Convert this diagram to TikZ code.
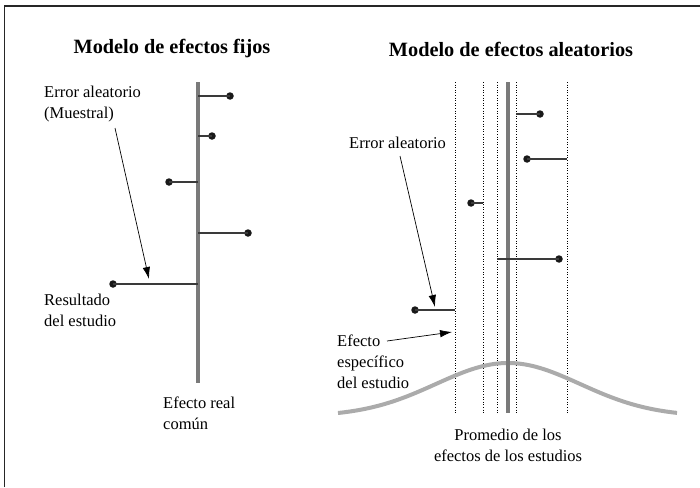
\documentclass[tikz,border=0pt]{standalone}
\usepackage{fontspec}
\setmainfont{Liberation Serif}
\usetikzlibrary{arrows.meta}

\definecolor{linegray}{HTML}{7A7A7A}
\definecolor{curvegray}{HTML}{ABABAB}
\definecolor{stubgray}{HTML}{3A3A3A}

\tikzset{
  label text/.style={inner sep=0pt, align=left, font=\fontsize{16.5}{21}\selectfont},
  title text/.style={inner sep=0pt, font=\fontsize{20.3}{24}\selectfont\bfseries},
  pointer/.style={-{Latex[length=12pt,width=7.5pt]}, line width=0.7pt, black}
}

\begin{document}
\begin{tikzpicture}[x=1pt, y=-1pt]
        \tikzstyle{effect}=[line width=4pt, linegray]
        \tikzstyle{stub}=[line width=1.1pt, stubgray]
        \tikzstyle{result}=[circle, fill=black!90, minimum size=7.5pt, inner sep=0pt]
        \tikzstyle{bound}=[line width=0.6pt, dash pattern=on 1pt off 1.6pt]
        \tikzstyle{bell}=[line width=4pt, curvegray]

        \useasboundingbox (0,0) rectangle (700,487);
        \draw[line width=1.3pt, black!85] (4.5,487) -- (4.5,6) -- (700,6);

        % fixed effects
        \node[title text] (T_1) at (172,49) {Modelo de efectos fijos};
        \draw[effect] (198,82) coordinate (F_top) -- (198,383) coordinate (F_bot);

        \coordinate (F_a1) at (198,96);
        \coordinate (F_a2) at (198,136);
        \coordinate (F_a3) at (198,182);
        \coordinate (F_a4) at (198,233);
        \coordinate (F_a5) at (198,284);
        \node[result] (F_1) at (230,96)  {};
        \node[result] (F_2) at (212,136) {};
        \node[result] (F_3) at (169,182) {};
        \node[result] (F_4) at (248,233) {};
        \node[result] (F_5) at (113,284) {};
        \foreach \i in {1,...,5}
            \draw[stub] (F_a\i) -- (F_\i.center);

        \node[label text, anchor=west] (F_err) at (44,104) {Error aleatorio\\(Muestral)};
        \node[label text, anchor=west] (F_res) at (44,310) {Resultado\\del estudio};
        \node[label text, anchor=west] (F_real) at (163,413) {Efecto real\\común};
        \coordinate (F_tip) at (149,279);
        \draw[pointer] (115,128) -- (F_tip);

        % random effects
        \node[title text] (T_2) at (511,49) {Modelo de efectos aleatorios};

        \foreach \x in {455,483,497,516,567}
            \draw[bound] (\x,82) -- (\x,413);

        \draw[bell] plot[domain=338:677, samples=90, smooth]
            (\x, {413-53.3*(exp(-0.5*((\x-508)/72)^2)-0.0616)});
        \draw[effect] (508,82) coordinate (R_top) -- (508,413) coordinate (R_bot);

        \coordinate (R_a1) at (516,114);
        \coordinate (R_a2) at (567,159);
        \coordinate (R_a3) at (483,203);
        \coordinate (R_a4) at (497,259);
        \coordinate (R_a5) at (455,310);
        \node[result] (R_1) at (540,114) {};
        \node[result] (R_2) at (527,159) {};
        \node[result] (R_3) at (471,203) {};
        \node[result] (R_4) at (559,259) {};
        \node[result] (R_5) at (415,310) {};
        \foreach \i in {1,...,5}
            \draw[stub] (R_a\i) -- (R_\i.center);

        \node[label text, anchor=west] (R_err) at (349,143) {Error aleatorio};
        \node[label text, anchor=west] (R_spec) at (337,362) {Efecto\\específico\\del estudio};
        \node[label text, align=center] (R_mean) at (508,445) {Promedio de los\\efectos de los estudios};
        \coordinate (R_tip1) at (435,307);
        \coordinate (R_tip2) at (452,332);
        \draw[pointer] (400,156) -- (R_tip1);
        \draw[pointer] (387,341) -- (R_tip2);
\end{tikzpicture}
\end{document}
